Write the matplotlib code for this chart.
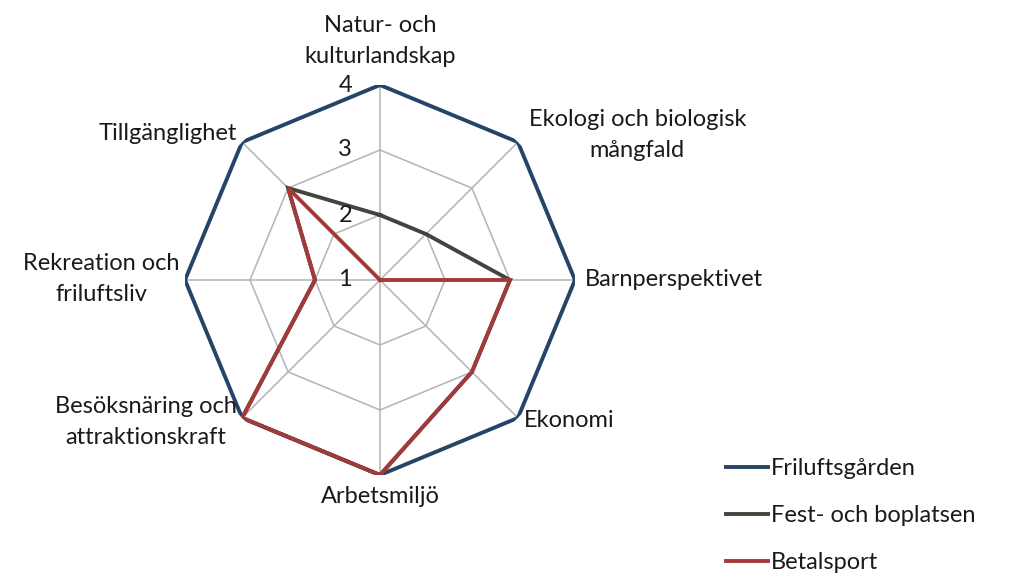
import numpy as np
import matplotlib.pyplot as plt

plt.rcParams['font.family'] = ['Lato', 'DejaVu Sans']

categories = ['Natur- och\nkulturlandskap', 'Ekologi och biologisk\nmångfald', 'Barnperspektivet',
              'Ekonomi', 'Arbetsmiljö', 'Besöksnäring och\nattraktionskraft',
              'Rekreation och\nfriluftsliv', 'Tillgänglighet']
friluftsgarden = [4, 4, 4, 4, 4, 4, 4, 4]
fest_boplatsen = [2, 2, 3, 3, 4, 4, 2, 3]
betalsport = [1, 1, 3, 3, 4, 4, 2, 3]
ring_values = [2, 3, 4]
tick_labels = ['1', '2', '3', '4']

series = [('Friluftsgården', friluftsgarden, '#254466'),
          ('Fest- och boplatsen', fest_boplatsen, '#41463c'),
          ('Betalsport', betalsport, '#a23a3c')]

n = len(categories)
theta = np.arange(n) * 2 * np.pi / n
theta_c = np.append(theta, theta[0])

fig = plt.figure(figsize=(10.09, 5.76), dpi=100)
ax = fig.add_axes([185 / 1009, 101 / 576, 390 / 1009, 390 / 576], projection='polar')
ax.set_theta_zero_location('N')
ax.set_theta_direction(-1)
ax.set_ylim(1, 4)
ax.grid(False)
ax.spines['polar'].set_visible(False)
ax.set_xticks([])
ax.set_yticks([])
ax.patch.set_alpha(0)

grid_col = '#b4b4b4'
for r in ring_values:
    ax.plot(theta_c, [r] * (n + 1), color=grid_col, lw=1.1, zorder=1)
for t in theta:
    ax.plot([t, t], [1, 4], color=grid_col, lw=1.1, zorder=1)

for name, vals, col in series:
    ax.plot(theta_c, vals + vals[:1], color=col, lw=2.8, label=name, zorder=3,
            solid_joinstyle='miter')

fs = 17
txt = '#1a1a1a'
# radial value labels
for i, lab in enumerate(tick_labels):
    ax.annotate(lab, xy=(0, i + 1), xytext=(-25, 0), textcoords='offset points',
                ha='center', va='center', fontsize=fs, color=txt)

# category labels: alignment and offset in points from the outer ring
label_pos = [('center', 'bottom', (0, 13)),
             ('center', 'center', (86, 5)),
             ('left', 'center', (7, 0)),
             ('left', 'center', (4, -2)),
             ('center', 'top', (0, -8)),
             ('right', 'center', (-4, -3)),
             ('right', 'center', (-4, 1)),
             ('right', 'center', (-4, 6))]
for i, (ha, va, off) in enumerate(label_pos):
    ax.annotate(categories[i], xy=(theta[i], 4), xytext=off, textcoords='offset points',
                ha=ha, va=va, multialignment='center', fontsize=fs, color=txt,
                linespacing=1.6, annotation_clip=False)

fig.legend(loc='upper left', bbox_to_anchor=(705 / 1009, 1 - 437 / 576), frameon=False,
           fontsize=fs, handlelength=1.75, handletextpad=0.15, labelspacing=1.1,
           labelcolor=txt)

fig.savefig('out.png', dpi=100)
